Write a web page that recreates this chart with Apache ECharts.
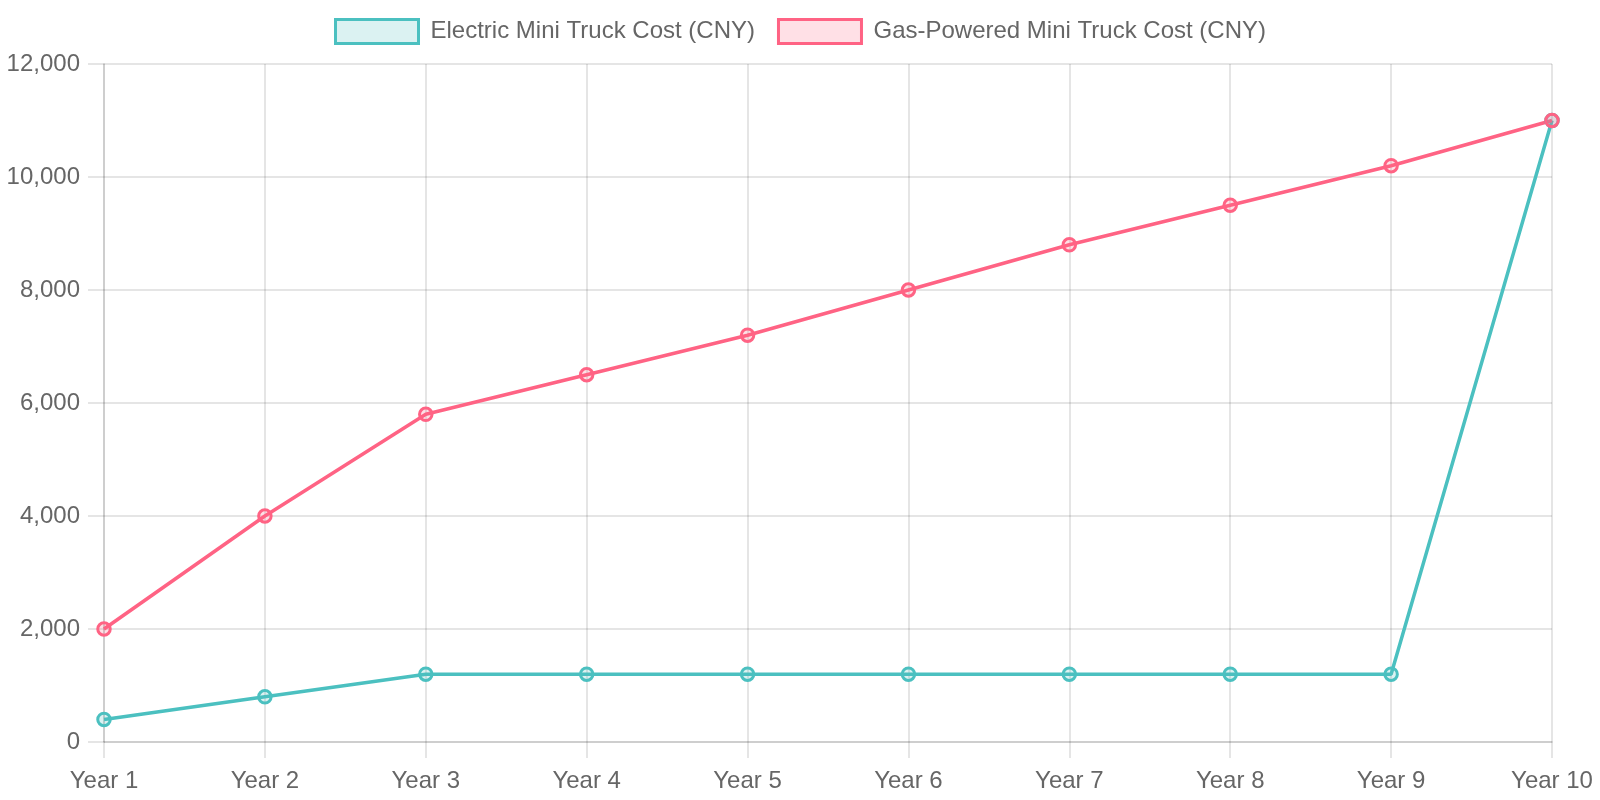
<!DOCTYPE html>
<html lang="en">
<head>
  <meta charset="UTF-8" />
  <title>Mini Truck Cost</title>
  <script src="https://cdn.jsdelivr.net/npm/echarts@6.0.0/dist/echarts.min.js"></script>
  <style>
    html, body { margin: 0; padding: 0; background: #fff; }
  </style>
</head>
<body>
  <div id="main" style="width: 1600px; height: 800px;"></div>

  <script>
    const years = ["Year 1", "Year 2", "Year 3", "Year 4", "Year 5", "Year 6", "Year 7", "Year 8", "Year 9", "Year 10"];
    const electricCost = [400, 800, 1200, 1200, 1200, 1200, 1200, 1200, 1200, 11000];
    const gasCost = [2000, 4000, 5800, 6500, 7200, 8000, 8800, 9500, 10200, 11000];
    const yTicks = { min: 0, max: 12000, interval: 2000 };

    const teal = "rgb(75, 192, 192)";
    const tealFill = "rgba(75, 192, 192, 0.2)";
    const pink = "rgb(255, 99, 132)";
    const pinkFill = "rgba(255, 99, 132, 0.2)";
    const gridColor = "rgba(0, 0, 0, 0.1)";
    const font = "Liberation Sans";

    const chart = echarts.init(document.getElementById("main"));

    // one line series, Chart.js-like look
    function lineSeries(name, data, color, fill) {
      return {
        name: name,
        type: "line",
        data: data,
        symbol: "circle",
        symbolSize: 12.5,
        showAllSymbol: true,
        lineStyle: { color: color, width: 3.5 },
        itemStyle: { color: fill, borderColor: color, borderWidth: 3 },
        emphasis: { disabled: true },
        z: 3,
      };
    }

    chart.setOption({
      animation: false,
      textStyle: { fontFamily: font },
      legend: {
        top: 13,
        left: "center",
        itemWidth: 83,
        itemHeight: 24,
        itemGap: 22,
        textStyle: { fontSize: 24, color: "#666", fontFamily: font, padding: [0, 0, 0, 7] },
        data: [
          { name: "Electric Mini Truck Cost (CNY)", icon: "rect", itemStyle: { color: tealFill, borderColor: teal, borderWidth: 3 } },
          { name: "Gas-Powered Mini Truck Cost (CNY)", icon: "rect", itemStyle: { color: pinkFill, borderColor: pink, borderWidth: 3 } },
        ],
      },
      grid: { left: 104, right: 48, top: 64, bottom: 58, containLabel: false },
      xAxis: {
        type: "category",
        data: years,
        boundaryGap: false,
        axisLine: { show: true, lineStyle: { color: gridColor, width: 2 } },
        axisTick: { show: true, length: 16, lineStyle: { color: gridColor, width: 2 } },
        splitLine: { show: true, lineStyle: { color: gridColor, width: 2 } },
        axisLabel: { color: "#666", fontSize: 24, fontFamily: font, margin: 27, interval: 0 },
      },
      yAxis: {
        type: "value",
        min: yTicks.min,
        max: yTicks.max,
        interval: yTicks.interval,
        axisLine: { show: true, lineStyle: { color: gridColor, width: 2 } },
        axisTick: { show: true, length: 16, lineStyle: { color: gridColor, width: 2 } },
        splitLine: { show: true, lineStyle: { color: gridColor, width: 2 } },
        axisLabel: {
          color: "#666",
          fontSize: 24,
          fontFamily: font,
          margin: 24,
          formatter: (v) => v.toLocaleString("en-US"),
        },
      },
      series: [
        lineSeries("Electric Mini Truck Cost (CNY)", electricCost, teal, tealFill),
        lineSeries("Gas-Powered Mini Truck Cost (CNY)", gasCost, pink, pinkFill),
      ],
    });
  </script>
</body>
</html>
